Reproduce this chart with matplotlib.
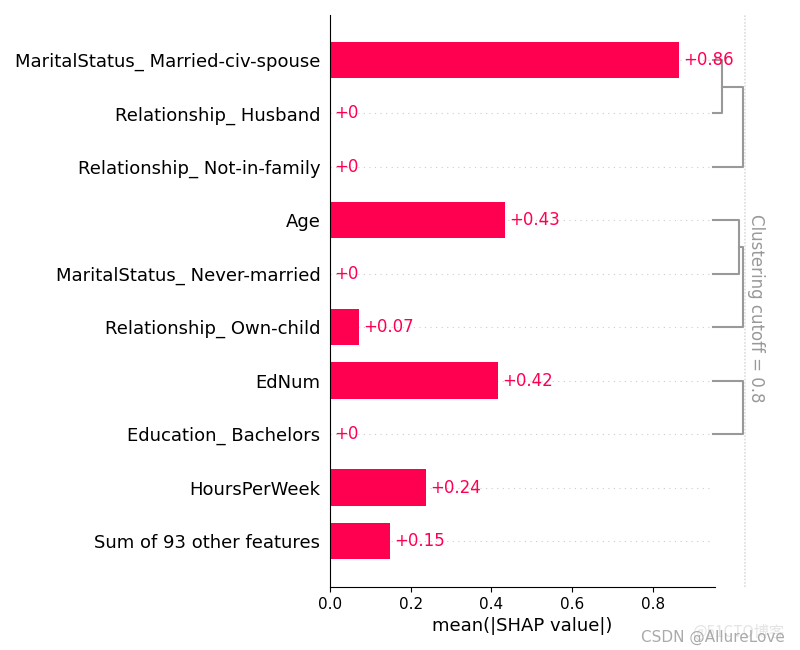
import matplotlib
matplotlib.use("Agg")
import matplotlib.pyplot as plt

# features from top to bottom, with mean(|SHAP|)
features = ["MaritalStatus_ Married-civ-spouse", "Relationship_ Husband",
            "Relationship_ Not-in-family", "Age", "MaritalStatus_ Never-married",
            "Relationship_ Own-child", "EdNum", "Education_ Bachelors",
            "HoursPerWeek", "Sum of 93 other features"]
values = [0.864, 0.0, 0.0, 0.433, 0.0, 0.072, 0.416, 0.0, 0.238, 0.149]
value_labels = ["+0.86", "+0", "+0", "+0.43", "+0", "+0.07", "+0.42", "+0", "+0.24", "+0.15"]

# dendrogram: (top child, bottom child, merge height) -- children are row index or node id
leaf_x = 0.949
links = [(0, 1, 0.971), ("a", 2, 1.024), (3, 4, 1.013), ("c", 5, 1.022), (6, 7, 1.023)]
link_names = ["a", "b", "c", "d", "e"]
cutoff_x = 1.028
cutoff = 0.8

red = "#ff0051"
grey = "#999999"

fig = plt.figure(figsize=(8, 6.5), dpi=100)
ax = fig.add_axes([0.4125, 0.0969, 0.55, 0.88])

ypos = list(range(len(features)))
ax.barh(ypos, values, height=0.68, color=red, zorder=2)
for i, (v, lab) in enumerate(zip(values, value_labels)):
    ax.plot([0, leaf_x - 0.004], [i, i], color="#cccccc", lw=0.8, dashes=(1, 4), zorder=-1)
    ax.text(v + 0.01, i, lab, color=red, fontsize=12, ha="left", va="center")

# dendrogram
nodes = {}
for name, (a, b, h) in zip(link_names, links):
    ya, xa = (a, leaf_x) if isinstance(a, int) else nodes[a]
    yb, xb = (b, leaf_x) if isinstance(b, int) else nodes[b]
    ax.plot([xa, h, h, xb], [ya, ya, yb, yb], color=grey, lw=1.5, zorder=1)
    nodes[name] = ((ya + yb) / 2, h)

ax.axvline(cutoff_x, color="#dddddd", dashes=(1, 1), lw=1.2)
ax.text(cutoff_x + 0.006, 4.65, "Clustering cutoff = " + str(cutoff), rotation=-90,
        ha="left", va="center", color=grey, fontsize=12)

ax.set_yticks(ypos)
ax.set_yticklabels(features, fontsize=13)
ax.tick_params(axis="y", length=0, pad=7)
ax.set_ylim(9.86, -0.84)
ax.set_xlim(0, 1.09)
ax.set_xticks([0, 0.2, 0.4, 0.6, 0.8])
ax.tick_params(axis="x", labelsize=11)
ax.set_xlabel("mean(|SHAP value|)", fontsize=13)
ax.xaxis.label.set_x(0.953 / 2 / 1.09)
ax.spines["top"].set_visible(False)
ax.spines["right"].set_visible(False)
ax.spines["bottom"].set_bounds(0, 0.953)

# watermark
fig.text(0.865, 0.02, "@51CTO博客", color="#e4e4e4", fontsize=11, ha="left",
         family=["Noto Sans CJK SC", "DejaVu Sans"])
fig.text(0.801, 0.012, "CSDN @AllureLove", color="#aaaaaa", fontsize=11, ha="left")

fig.savefig("out.png", dpi=100)
